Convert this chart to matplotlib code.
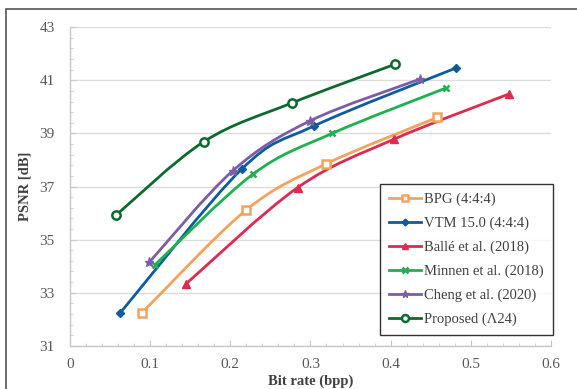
import numpy as np
import matplotlib
matplotlib.use("Agg")
import matplotlib.pyplot as plt
from matplotlib.path import Path
from matplotlib.patches import PathPatch, Rectangle
from matplotlib.lines import Line2D

plt.rcParams["font.family"] = ["Liberation Serif", "DejaVu Serif"]

# data
bpg_x = [0.090, 0.220, 0.320, 0.458]
bpg_y = [32.25, 36.12, 37.86, 39.60]
vtm_x = [0.063, 0.214, 0.305, 0.482]
vtm_y = [32.25, 37.65, 39.29, 41.47]
balle_x = [0.145, 0.284, 0.404, 0.548]
balle_y = [33.34, 36.96, 38.78, 40.49]
minnen_x = [0.106, 0.228, 0.327, 0.469]
minnen_y = [34.05, 37.46, 39.00, 40.71]
cheng_x = [0.099, 0.203, 0.300, 0.437]
cheng_y = [34.15, 37.59, 39.48, 41.05]
prop_x = [0.057, 0.167, 0.277, 0.405]
prop_y = [35.91, 38.69, 40.15, 41.60]

labels = ["BPG (4:4:4)", "VTM 15.0 (4:4:4)", "Ballé et al. (2018)",
          "Minnen et al. (2018)", "Cheng et al. (2020)", "Proposed (\u039b24)"]
x_ticks = [0, 0.1, 0.2, 0.3, 0.4, 0.5, 0.6]
x_ticklabels = ["0", "0.1", "0.2", "0.3", "0.4", "0.5", "0.6"]
y_ticks = [31, 33, 35, 37, 39, 41, 43]

series = [
    (bpg_x, bpg_y, "#F5A25D", "s", "white", 6),
    (vtm_x, vtm_y, "#0E5C9E", "D", None, 4.5),
    (balle_x, balle_y, "#E0294F", "^", None, 6),
    (minnen_x, minnen_y, "#1DB24E", "x", None, 5),
    (cheng_x, cheng_y, "#7B5EA7", "*", None, 6.5),
    (prop_x, prop_y, "#0B6B2F", "o", "white", 6),
]


def smooth_path(xs, ys, t=1.0 / 6):
    # Excel-like smoothed line: Bezier segments through the points
    p = np.column_stack([xs, ys])
    n = len(p)
    verts = [p[0]]
    codes = [Path.MOVETO]
    for i in range(n - 1):
        p0 = p[i - 1] if i > 0 else p[i]
        p3 = p[i + 2] if i + 2 < n else p[i + 1]
        c1 = p[i] + (p[i + 1] - p0) * t
        c2 = p[i + 1] - (p3 - p[i]) * t
        verts += [c1, c2, p[i + 1]]
        codes += [Path.CURVE4] * 3
    return Path(verts, codes)


fig = plt.figure(figsize=(5.77, 3.89), dpi=100)
ax = fig.add_axes([0.1213, 0.111, 0.8335, 0.819])

handles = []
for (xs, ys, c, m, fc, ms), lab in zip(series, labels):
    ax.add_patch(PathPatch(smooth_path(xs, ys), facecolor="none",
                           edgecolor=c, lw=2.0, zorder=3))
    mfc = fc if fc else c
    mew = 1.8 if m in ("s", "o", "x") else 1.0
    ax.plot(xs, ys, linestyle="none", marker=m, ms=ms, color=c,
            markerfacecolor=mfc, markeredgecolor=c, markeredgewidth=mew, zorder=4)
    handles.append(Line2D([], [], color=c, lw=2.0, marker=m, ms=ms - 1,
                          markerfacecolor=mfc, markeredgecolor=c,
                          markeredgewidth=mew))

ax.set_xlim(0, 0.6)
ax.set_ylim(31, 43)
ax.set_xticks(x_ticks)
ax.set_xticklabels(x_ticklabels)
ax.set_xticks(np.arange(0, 0.601, 0.02), minor=True)
ax.set_yticks(y_ticks)
ax.set_yticks(np.arange(31, 43.01, 0.4), minor=True)

for s in ("top", "right"):
    ax.spines[s].set_visible(False)
for s in ("left", "bottom"):
    ax.spines[s].set_color("#C8C8C8")
    ax.spines[s].set_linewidth(1.0)
ax.grid(axis="y", which="major", color="#DCDCDC", lw=1.0)
ax.set_axisbelow(True)
ax.tick_params(which="both", direction="in", color="#C8C8C8",
               labelcolor="#595959", labelsize=11)
ax.tick_params(which="major", length=4)
ax.tick_params(which="minor", length=2.5)
ax.tick_params(axis="x", pad=9)
ax.tick_params(axis="y", pad=11)

ax.set_xlabel("Bit rate (bpp)", fontsize=10.5, fontweight="bold",
              color="#404040", labelpad=2)
ax.set_ylabel("PSNR [dB]", fontsize=10.5, fontweight="bold",
              color="#404040", labelpad=6)

leg = ax.legend(handles, labels, loc="lower right",
                bbox_to_anchor=(1.0035, 0.035), fontsize=10.5,
                frameon=True, fancybox=False, edgecolor="black",
                handlelength=2.2, handletextpad=0.2, labelspacing=0.72,
                borderpad=0.6, borderaxespad=0)
leg.get_frame().set_linewidth(1.0)
for txt in leg.get_texts():
    txt.set_color("#404040")

# outer frame of the original figure, partly cropped
fig.patches.append(Rectangle((6 / 577, -0.1), 1.2, 1.1 - 9 / 389,
                             transform=fig.transFigure, fill=False,
                             edgecolor="#555555", lw=1.2))

fig.savefig("out.png", dpi=100)
